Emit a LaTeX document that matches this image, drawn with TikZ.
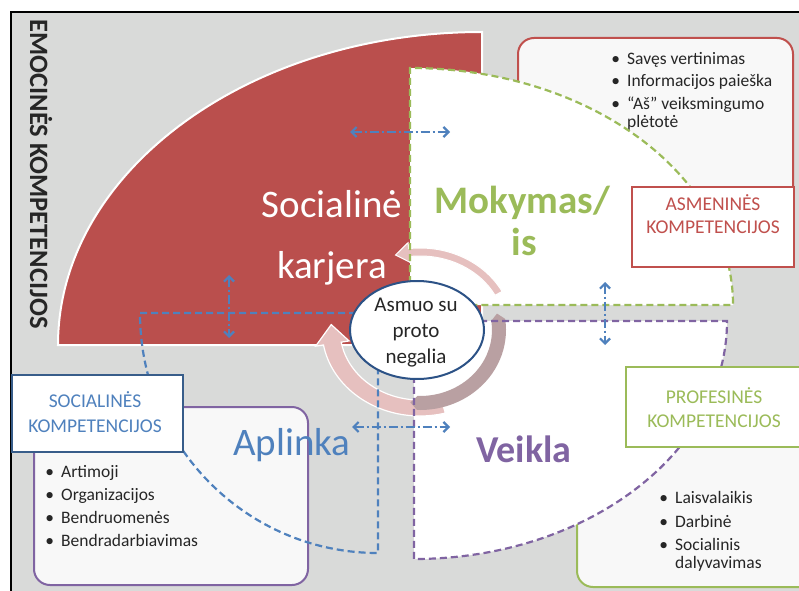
\documentclass[tikz,border=0pt]{standalone}
\usepackage{fontspec}
\setmainfont{Carlito}
\usetikzlibrary{arrows.meta}

\definecolor{bggray}{HTML}{D9DAD9}
\definecolor{karjred}{HTML}{BA4F4D}
\definecolor{asmred}{HTML}{C0504D}
\definecolor{mokgreen}{HTML}{9BBB59}
\definecolor{veikpurple}{HTML}{8064A2}
\definecolor{aplblue}{HTML}{4F81BD}
\definecolor{navy}{HTML}{2C5286}
\definecolor{socnavy}{HTML}{385D8A}
\definecolor{pinkarr}{HTML}{E6C0BF}
\definecolor{mauve}{HTML}{B9A0A2}
\definecolor{listfill}{HTML}{F8F8F8}
\definecolor{txtdark}{HTML}{262626}

\begin{document}
\begin{tikzpicture}[x=1pt, y=1pt, >={Straight Barb[length=5pt,width=10pt]},
  quarter/.style={line width=2.2pt, dash pattern=on 7pt off 4pt},
  listbox/.style={line width=2pt, fill=listfill, rounded corners=16pt},
  tagbox/.style={line width=2.2pt, fill=white},
  item/.style={anchor=base west, inner sep=0pt, text=txtdark, font=\fontsize{17.5}{20}\selectfont},
  tag/.style={anchor=base, inner sep=0pt, font=\fontsize{19.5}{23}\selectfont},
  big/.style={anchor=base, inner sep=0pt, font=\fontsize{39}{47}\selectfont},
  link/.style={<->, aplblue, line width=2.2pt, dash pattern=on 9pt off 3pt on 2pt off 3pt}]
  \useasboundingbox (0,0) rectangle (799,590);
  \fill[white] (0,0) rectangle (799,590);
  \draw[black, line width=1.5pt, fill=bggray] (11,-10) rectangle (812,578);

  % socialine karjera
  \draw[white, line width=2pt, fill=karjred] (58,245)
    arc[start angle=180, end angle=90, x radius=424pt, y radius=313pt] -- (482,245) -- cycle;

  % list boxes behind the quarters
  \draw[listbox, draw=asmred] (518,335) rectangle (793,552);
  \fill[white] (410,285) -- (410,522)
    arc[start angle=90, end angle=0, x radius=323pt, y radius=237pt] -- cycle;
  \draw[listbox, draw=mokgreen] (577,3) rectangle (815,150);
  \fill[white] (414,269) -- (727,269)
    arc[start angle=0, end angle=-90, x radius=313pt, y radius=238pt] -- cycle;
  \draw[listbox, draw=veikpurple] (34,5) rectangle (308,183);

  \node[item] (as1) at (627,525) {\llap{\textbullet\hspace{7pt}}Savęs vertinimas};
  \node[item] (as2) at (627,503) {\llap{\textbullet\hspace{7pt}}Informacijos paieška};
  \node[item] (as3) at (627,480) {\llap{\textbullet\hspace{7pt}}“Aš” veiksmingumo};
  \node[item] (as4) at (627,462) {plėtotė};

  \node[item] (pr1) at (675,87) {\llap{\textbullet\hspace{7pt}}Laisvalaikis};
  \node[item] (pr2) at (675,63) {\llap{\textbullet\hspace{7pt}}Darbinė};
  \node[item] (pr3) at (675,40) {\llap{\textbullet\hspace{7pt}}Socialinis};
  \node[item] (pr4) at (675,22) {dalyvavimas};

  \foreach \txt [count=\i] in {Artimoji, Organizacijos, Bendruomenės, Bendradarbiavimas}
    \node[item] (so\i) at (61,{113-23*(\i-1)}) {\llap{\textbullet\hspace{7pt}}\txt};

  % circular arrows round the person
  \begin{scope}[shift={(420,260)}]
    \filldraw[white, line width=1.2pt, fill=pinkarr] (285:98pt and 86pt)
      arc[start angle=285, end angle=190, x radius=98pt, y radius=86pt]
      -- (190:106pt and 93pt) -- (176:89pt and 78pt) -- (190:72pt and 63pt) -- (190:80pt and 70pt)
      arc[start angle=190, end angle=285, x radius=80pt, y radius=70pt] -- cycle;
    \filldraw[white, line width=1pt, fill=pinkarr] (28:93pt and 82pt)
      arc[start angle=28, end angle=97, x radius=93pt, y radius=82pt]
      -- (97:98pt and 88pt) -- (106:89pt and 78pt) -- (97:79pt and 68pt) -- (97:85pt and 74pt)
      arc[start angle=97, end angle=28, x radius=85pt, y radius=74pt] -- cycle;
    \fill[mauve] (8:86pt and 80pt)
      arc[start angle=8, end angle=-92, x radius=86pt, y radius=80pt]
      -- (-97:79pt and 73pt) -- (-92:72pt and 66pt)
      arc[start angle=-92, end angle=8, x radius=72pt, y radius=66pt] -- (13:79pt and 73pt) -- cycle;
  \end{scope}

  % dashed quarters
  \draw[quarter, mokgreen] (410,285) -- (410,522)
    arc[start angle=90, end angle=0, x radius=323pt, y radius=237pt] -- cycle;
  \draw[quarter, veikpurple] (414,269) -- (727,269)
    arc[start angle=0, end angle=-90, x radius=313pt, y radius=238pt] -- cycle;
  \draw[quarter, aplblue] (378,277) -- (140,277)
    arc[start angle=180, end angle=270, x radius=238pt, y radius=240pt] -- cycle;

  % competence boxes
  \draw[tagbox, draw=asmred] (632,323) rectangle (794,403);
  \node[tag, text=asmred] (asm1) at (713,380) {ASMENINĖS};
  \node[tag, text=asmred] (asm2) at (713,357) {KOMPETENCIJOS};
  \draw[tagbox, draw=mokgreen, line width=2.5pt] (626,143) rectangle (815,223);
  \node[tag, text=mokgreen] (prof1) at (714,187) {PROFESINĖS};
  \node[tag, text=mokgreen] (prof2) at (714,163) {KOMPETENCIJOS};
  \draw[tagbox, draw=socnavy, line width=2.5pt] (12,138) rectangle (183,215);
  \node[tag, text=aplblue] (soc1) at (95,183) {SOCIALINĖS};
  \node[tag, text=aplblue] (soc2) at (95,158) {KOMPETENCIJOS};

  % big labels
  \node[big, text=white] (karj1) at (332,373) {Socialinė};
  \node[big, text=white] (karj2) at (332,312) {karjera};
  \node[big, text=mokgreen, font=\bfseries\fontsize{39}{47}\selectfont] (mok1) at (522,377) {Mokymas/};
  \node[big, text=mokgreen, font=\bfseries\fontsize{39}{47}\selectfont] (mok2) at (524,335) {is};
  \node[big, text=veikpurple, font=\bfseries\fontsize{38}{46}\selectfont] (veik) at (524,128) {Veikla};
  \node[big, text=aplblue] (apl) at (292,135) {Aplinka};

  % person in the middle
  \draw[navy, line width=2pt, fill=white] (417,260) ellipse[x radius=67pt, y radius=49pt];
  \node[text=txtdark, align=center, inner sep=0pt, font=\fontsize{21}{26}\selectfont] (asmuo) at (416,257) {Asmuo su\\proto\\negalia};

  % links
  \coordinate (kL) at (350,458); \coordinate (kR) at (450,458);
  \coordinate (sT) at (229,315); \coordinate (sB) at (229,252);
  \coordinate (mT) at (605,308); \coordinate (mB) at (605,245);
  \coordinate (aL) at (352,163); \coordinate (aR) at (450,163);
  \draw[link] (kL) -- (kR);
  \draw[link] (sT) -- (sB);
  \draw[link] (mT) -- (mB);
  \draw[link] (aL) -- (aR);

  \node[rotate=-90, text=txtdark, inner sep=0pt, font=\bfseries\fontsize{26.5}{30}\selectfont] (emoc) at (41,416) {EMOCINĖS KOMPETENCIJOS};
\end{tikzpicture}
\end{document}
